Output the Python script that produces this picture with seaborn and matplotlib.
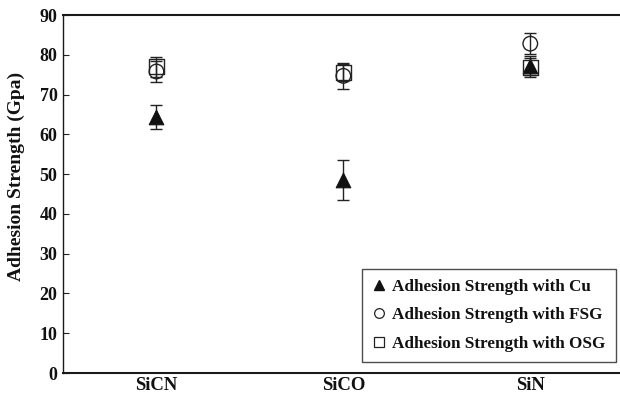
import numpy as np
import pandas as pd
import matplotlib
matplotlib.use("Agg")
import matplotlib.pyplot as plt
from matplotlib.lines import Line2D
import seaborn as sns

categories = ["SiCN", "SiCO", "SiN"]
series = ["Adhesion Strength with Cu", "Adhesion Strength with FSG", "Adhesion Strength with OSG"]
cu_vals = [64.4, 48.5, 77.3]
cu_err = [3.0, 5.0, 2.5]
fsg_vals = [75.8, 74.7, 82.8]
fsg_err = [2.6, 3.3, 2.7]
osg_vals = [77.0, 75.5, 76.8]
osg_err = [2.5, 2.2, 2.5]
yticks = [0, 10, 20, 30, 40, 50, 60, 70, 80, 90]

rows = []
for s, vals, errs in zip(series, [cu_vals, fsg_vals, osg_vals], [cu_err, fsg_err, osg_err]):
    for c, v, e in zip(categories, vals, errs):
        rows.append({"Material": c, "Series": s, "Value": v, "Err": e})
df = pd.DataFrame(rows)
df["x"] = df["Material"].map({c: i for i, c in enumerate(categories)})

sns.set_theme(style="white")
plt.rcParams["font.family"] = ["Liberation Serif", "DejaVu Serif"]
plt.rcParams["font.weight"] = "bold"
plt.rcParams["text.color"] = "#111111"
plt.rcParams["xtick.color"] = "#111111"
plt.rcParams["ytick.color"] = "#111111"
plt.rcParams["axes.labelcolor"] = "#111111"

fig = plt.figure(figsize=(6.2, 3.98), dpi=100)
ax = fig.add_axes([0.1016, 0.0628, 0.8984, 0.8995])

# error bars
for s in series:
    sub = df[df["Series"] == s]
    ax.errorbar(sub["x"], sub["Value"], yerr=sub["Err"], fmt="none",
                ecolor="#222222", elinewidth=1.0, capsize=4, capthick=1.0, zorder=2)

sns.scatterplot(data=df[df["Series"] == series[0]], x="x", y="Value", marker="^",
                s=110, color="#111111", edgecolor="#111111", linewidth=0.8, ax=ax,
                legend=False, zorder=3)
sns.scatterplot(data=df[df["Series"] == series[1]], x="x", y="Value", marker="o",
                s=110, facecolor="none", edgecolor="#222222", linewidth=1.0, ax=ax,
                legend=False, zorder=3)
sns.scatterplot(data=df[df["Series"] == series[2]], x="x", y="Value", marker="s",
                s=110, facecolor="none", edgecolor="#222222", linewidth=1.0, ax=ax,
                legend=False, zorder=3)

ax.set_xlim(-0.5, 2.48)
ax.set_ylim(0, 90)
ax.set_yticks(yticks)
ax.set_yticklabels([str(t) for t in yticks], fontsize=13, fontweight="bold")
ax.set_xticks([0.5, 1.5])
ax.set_xticklabels(["", ""])
ax.set_xticks([0, 1, 2], minor=True)
ax.set_xticklabels(categories, minor=True, fontsize=13.5, fontweight="bold")
ax.tick_params(axis="x", which="minor", length=0, pad=3)
ax.tick_params(axis="x", which="major", direction="in", length=5, width=0.8, color="#222222")
ax.tick_params(axis="y", direction="in", length=4, width=0.8, color="#222222", pad=4, left=True)
ax.set_xlabel("")
ax.set_ylabel("Adhesion Strength (Gpa)", fontsize=14, fontweight="bold")
ax.yaxis.set_label_coords(-0.068, 0.55)

for side in ["left", "bottom", "top"]:
    ax.spines[side].set_visible(True)
    ax.spines[side].set_color("#1a1a1a")
    ax.spines[side].set_linewidth(1.5)
ax.spines["left"].set_linewidth(1.0)
ax.spines["right"].set_visible(False)

handles = [
    Line2D([], [], linestyle="none", marker="^", markersize=7, color="#111111"),
    Line2D([], [], linestyle="none", marker="o", markersize=7, markerfacecolor="none",
           markeredgecolor="#222222", markeredgewidth=0.9),
    Line2D([], [], linestyle="none", marker="s", markersize=7, markerfacecolor="none",
           markeredgecolor="#222222", markeredgewidth=0.9),
]
leg = ax.legend(handles, series, loc="lower right", bbox_to_anchor=(0.993, 0.031),
                prop={"family": "Liberation Serif", "weight": "bold", "size": 12.3},
                frameon=True, fancybox=False, shadow=False, handlelength=0.8,
                handletextpad=0.4, labelspacing=0.72, borderpad=0.6, borderaxespad=0)
leg.get_frame().set_edgecolor("#222222")
leg.get_frame().set_linewidth(1.0)

fig.savefig("out.png", dpi=100)
